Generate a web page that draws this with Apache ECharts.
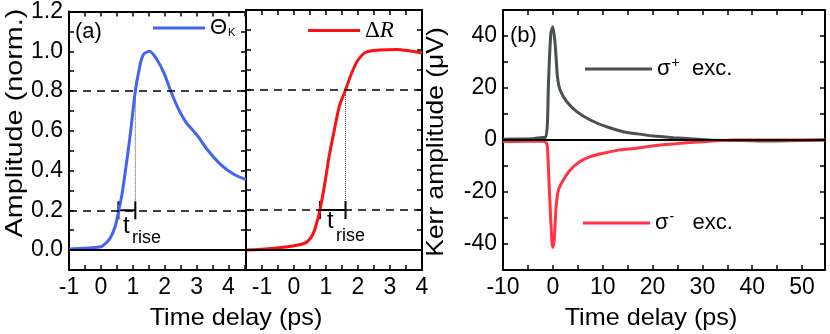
<!DOCTYPE html>
<html>
<head>
<meta charset="utf-8">
<script src="https://cdn.jsdelivr.net/npm/echarts@6/dist/echarts.min.js"></script>
<style>
  html, body { margin: 0; padding: 0; background: #fff; }
  #chart { width: 830px; height: 334px; }
</style>
</head>
<body>
<div id="chart"></div>
<script>
// ---- data ----
// panel (a), left: Kerr rotation
var timeTheta = [-1, 0, 0.12, 0.29, 0.45, 0.56, 0.66, 0.77, 0.92, 1.08, 1.19, 1.32, 1.52, 1.75, 1.98, 2.19, 2.4, 2.66, 3.03, 3.34, 3.76, 4.18, 4.55];
var thetaK = [0.005, 0.017, 0.03, 0.06, 0.12, 0.2, 0.28, 0.40, 0.58, 0.80, 0.90, 0.98, 1.0, 0.96, 0.89, 0.80, 0.72, 0.645, 0.575, 0.505, 0.43, 0.38, 0.355];
// panel (a), right: reflectivity
var timeDR = [-1.5, -0.68, -0.05, 0.37, 0.58, 0.70, 0.81, 0.95, 1.10, 1.26, 1.42, 1.61, 1.79, 2.0, 2.26, 2.68, 3.21, 3.63, 4.0];
var deltaR = [0.0, 0.008, 0.02, 0.037, 0.075, 0.13, 0.2, 0.32, 0.47, 0.60, 0.72, 0.80, 0.88, 0.95, 0.99, 1.0, 1.003, 0.995, 0.985];
// rise time markers (start, end) and the 20% / 80% levels
var riseTheta = [0.55, 1.08];
var riseDR = [0.81, 1.61];
var levels = [0.2, 0.8];
// panel (b): Kerr amplitude for sigma+ / sigma- excitation
var timePlus = [-10, -7, -4, -2.5, -1.5, -1.1, -0.88, -0.4, 0, 0.46, 0.92, 1.46, 2.8, 4.8, 7.5, 10.8, 14.1, 16.8, 20.2, 24.2, 28.2, 32.2, 38, 44, 50, 54.6];
var kerrPlus = [0.3, 0.4, 0.5, 0.9, 1.0, 6, 21.8, 41, 43.6, 37, 24.4, 19.2, 14.7, 10.9, 7.7, 5.1, 3.2, 2.4, 1.5, 0.9, 0.4, -0.1, -0.2, -0.4, -0.2, 0];
var timeMinus = [-10, -6, -2.5, -1.5, -1.1, -0.9, -0.55, -0.2, 0, 0.27, 0.66, 1.13, 2.1, 3.47, 5.47, 7.5, 10.1, 13.5, 16.8, 20.2, 24.2, 28.2, 32.2, 36.2, 44, 50, 54.6];
var kerrMinus = [-0.6, -0.5, -0.4, -0.6, -2.6, -10.3, -25.6, -38.5, -41.3, -38.5, -25.6, -19.2, -15.4, -11.5, -8.3, -6.4, -5.1, -3.8, -3.2, -2.2, -1.5, -0.9, -0.4, 0, 0, 0, 0];

function pairs(xs, ys) {
  return xs.map(function (x, i) { return [x, ys[i]]; });
}

var FONT = 'Liberation Sans, Arial, sans-serif';

// box axes: every grid gets bottom/top and left/right axes with inward ticks
function axis(kind, grid, min, max, interval, pos, labels, formatter) {
  return {
    type: 'value',
    gridIndex: grid,
    position: pos,
    min: min,
    max: max,
    interval: interval,
    axisLine: { show: true, onZero: false, lineStyle: { color: '#000', width: 2 } },
    axisTick: { show: true, inside: true, length: 5, lineStyle: { color: '#000', width: 1.5 } },
    axisLabel: {
      show: labels,
      color: '#000',
      fontSize: 23,
      fontFamily: FONT,
      margin: kind === 'x' ? 6 : 6,
      formatter: formatter
    },
    splitLine: { show: false }
  };
}

var fmtInt = function (v) { return Number.isInteger(v) ? String(v) : ''; };
var fmtTen = function (v) { return v % 10 === 0 ? String(v) : ''; };
var fmtNorm = function (v) { return Math.round(v * 10) % 2 === 0 ? v.toFixed(1) : ''; };
var fmtKerr = function (v) { return (v % 20 === 0 && Math.abs(v) < 50) ? String(v) : ''; };

var refLines = {
  symbol: 'none',
  silent: true,
  label: { show: false },
  data: [
    { yAxis: 0, lineStyle: { color: '#000', width: 2, type: 'solid' } },
    { yAxis: levels[0], lineStyle: { color: '#000', width: 1.5, type: [8, 6] } },
    { yAxis: levels[1], lineStyle: { color: '#000', width: 1.5, type: [8, 6] } }
  ]
};

function riseBar(xi, yi, rise) {
  return {
    type: 'line', xAxisIndex: xi, yAxisIndex: yi, silent: true,
    data: rise.map(function (t) { return [t, levels[0]]; }),
    symbol: 'rect', symbolSize: [2, 18],
    itemStyle: { color: '#000' },
    lineStyle: { color: '#000', width: 2 },
    z: 3
  };
}
function riseDrop(xi, yi, rise) {
  return {
    type: 'line', xAxisIndex: xi, yAxisIndex: yi, silent: true,
    data: [[rise[1], levels[0]], [rise[1], levels[1]]],
    symbol: 'none',
    lineStyle: { color: '#444', width: 1, type: 'dotted' },
    z: 3
  };
}

function legendBox(name, left, top, width, rich, fmt) {
  return {
    data: [name], left: left, top: top,
    icon: 'rect', itemWidth: width, itemHeight: 3,
    formatter: function () { return fmt; },
    textStyle: { rich: rich }
  };
}

var chart = echarts.init(document.getElementById('chart'));
chart.setOption({
  animation: false,
  backgroundColor: '#fff',
  grid: [
    { left: 69, top: 10, width: 177, height: 260 },
    { left: 246, top: 10, width: 176, height: 260 },
    { left: 503, top: 10, width: 322, height: 260 }
  ],
  xAxis: [
    axis('x', 0, -1, 4.55, 0.5, 'bottom', true, fmtInt),
    axis('x', 0, -1, 4.55, 0.5, 'top', false),
    axis('x', 1, -1.5, 4, 0.5, 'bottom', true, fmtInt),
    axis('x', 1, -1.5, 4, 0.5, 'top', false),
    axis('x', 2, -10, 54.6, 5, 'bottom', true, fmtTen),
    axis('x', 2, -10, 54.6, 5, 'top', false)
  ],
  yAxis: [
    axis('y', 0, -0.1, 1.2, 0.1, 'left', true, fmtNorm),
    axis('y', 0, -0.1, 1.2, 0.1, 'right', false),
    axis('y', 1, -0.1, 1.2, 0.1, 'left', false),
    axis('y', 1, -0.1, 1.2, 0.1, 'right', false),
    axis('y', 2, -50, 50, 10, 'left', true, fmtKerr),
    axis('y', 2, -50, 50, 10, 'right', false)
  ],
  legend: [
    legendBox('ThetaK', 148, 12, 52, {
      a: { fontSize: 22, fontFamily: FONT, color: '#000' },
      b: { fontSize: 11, fontFamily: FONT, color: '#000', padding: [10, 0, 0, 1] }
    }, '{a|Θ}{b|K}'),
    legendBox('DeltaR', 303, 14, 52, {
      d: { fontSize: 23, fontFamily: 'Liberation Serif, serif', color: '#000' },
      r: { fontSize: 23, fontFamily: 'Liberation Serif, serif', fontStyle: 'italic', color: '#000' }
    }, '{d|Δ}{r|R}'),
    legendBox('sigmaPlus', 580, 51, 67, {
      s: { fontSize: 22, fontFamily: FONT, color: '#000' },
      p: { fontSize: 14, fontFamily: FONT, color: '#000', padding: [0, 0, 12, 1] },
      e: { fontSize: 22, fontFamily: FONT, color: '#000' }
    }, '{s|σ}{p|+}{e|  exc.}'),
    legendBox('sigmaMinus', 578, 205, 67, {
      s: { fontSize: 22, fontFamily: FONT, color: '#000' },
      p: { fontSize: 14, fontFamily: FONT, color: '#000', padding: [0, 0, 12, 1] },
      e: { fontSize: 22, fontFamily: FONT, color: '#000' }
    }, '{s|σ}{p|-}{e|   exc.}')
  ],
  series: [
    {
      name: 'ThetaK', type: 'line', xAxisIndex: 0, yAxisIndex: 0,
      data: pairs(timeTheta, thetaK), smooth: 0.3, symbol: 'none',
      lineStyle: { color: '#4563f2', width: 3 }, itemStyle: { color: '#4563f2' },
      markLine: refLines, z: 4
    },
    riseBar(0, 0, riseTheta),
    riseDrop(0, 0, riseTheta),
    {
      name: 'DeltaR', type: 'line', xAxisIndex: 2, yAxisIndex: 2,
      data: pairs(timeDR, deltaR), smooth: 0.3, symbol: 'none',
      lineStyle: { color: '#ff1010', width: 3 }, itemStyle: { color: '#ff1010' },
      markLine: refLines, z: 4
    },
    riseBar(2, 2, riseDR),
    riseDrop(2, 2, riseDR),
    {
      name: 'sigmaPlus', type: 'line', xAxisIndex: 4, yAxisIndex: 4,
      data: pairs(timePlus, kerrPlus), smooth: 0.2, symbol: 'none',
      lineStyle: { color: '#4a4f4f', width: 3 }, itemStyle: { color: '#4a4f4f' },
      markLine: {
        symbol: 'none', silent: true, label: { show: false },
        data: [{ yAxis: 0, lineStyle: { color: '#000', width: 2, type: 'solid' } }]
      },
      z: 4
    },
    {
      name: 'sigmaMinus', type: 'line', xAxisIndex: 4, yAxisIndex: 4,
      data: pairs(timeMinus, kerrMinus), smooth: 0.2, symbol: 'none',
      lineStyle: { color: '#ff3344', width: 3 }, itemStyle: { color: '#ff3344' },
      z: 4
    }
  ],
  graphic: [
    { type: 'text', x: 15, y: 123, rotation: Math.PI / 2, scaleX: 1.2,
      style: { text: 'Amplitude (norm.)', font: '24px ' + FONT, fill: '#000', align: 'center', verticalAlign: 'middle', textAlign: 'center', textVerticalAlign: 'middle' } },
    { type: 'text', x: 436, y: 142, rotation: Math.PI / 2, scaleX: 1.1,
      style: { text: 'Kerr amplitude (μV)', font: '24px ' + FONT, fill: '#000', align: 'center', verticalAlign: 'middle', textAlign: 'center', textVerticalAlign: 'middle' } },
    { type: 'text', x: 236, y: 318, scaleX: 1.05,
      style: { text: 'Time delay (ps)', font: '24px ' + FONT, fill: '#000', align: 'center', verticalAlign: 'middle', textAlign: 'center', textVerticalAlign: 'middle' } },
    { type: 'text', x: 651, y: 318, scaleX: 1.05,
      style: { text: 'Time delay (ps)', font: '24px ' + FONT, fill: '#000', align: 'center', verticalAlign: 'middle', textAlign: 'center', textVerticalAlign: 'middle' } },
    { type: 'text', x: 75, y: 32,
      style: { text: '(a)', font: '22px ' + FONT, fill: '#000', align: 'left', verticalAlign: 'middle', textAlign: 'left', textVerticalAlign: 'middle' } },
    { type: 'text', x: 510, y: 36,
      style: { text: '(b)', font: '22px ' + FONT, fill: '#000', align: 'left', verticalAlign: 'middle', textAlign: 'left', textVerticalAlign: 'middle' } },
    { type: 'text', x: 123, y: 226,
      style: { text: 't', font: '24px ' + FONT, fill: '#000', align: 'left', verticalAlign: 'middle', textAlign: 'left', textVerticalAlign: 'middle' } },
    { type: 'text', x: 132, y: 238,
      style: { text: 'rise', font: '18px ' + FONT, fill: '#000', align: 'left', verticalAlign: 'middle', textAlign: 'left', textVerticalAlign: 'middle' } },
    { type: 'text', x: 327, y: 221,
      style: { text: 't', font: '24px ' + FONT, fill: '#000', align: 'left', verticalAlign: 'middle', textAlign: 'left', textVerticalAlign: 'middle' } },
    { type: 'text', x: 336, y: 236,
      style: { text: 'rise', font: '18px ' + FONT, fill: '#000', align: 'left', verticalAlign: 'middle', textAlign: 'left', textVerticalAlign: 'middle' } }
  ]
});
</script>
</body>
</html>
